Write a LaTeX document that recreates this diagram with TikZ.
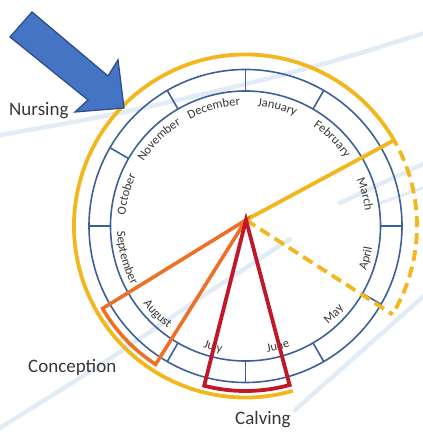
\documentclass[tikz,border=0pt]{standalone}
\usepackage{fontspec}
\setmainfont{Carlito}
\usetikzlibrary{decorations.text}

\definecolor{ringblue}{RGB}{62,96,150}
\definecolor{nurseyellow}{RGB}{242,183,28}
\definecolor{conceporange}{RGB}{237,112,40}
\definecolor{calvred}{RGB}{192,24,42}
\definecolor{arrowfill}{RGB}{70,116,196}
\definecolor{arrowedge}{RGB}{45,80,140}
\definecolor{streak}{RGB}{226,236,247}
\definecolor{labelgray}{RGB}{55,55,55}

\newcommand\monthfont{\fontsize{12.5}{14}\selectfont\color{labelgray}}

% month name curved along the upper half (letters pointing outward)
\newcommand\monthup[2]{%
  \path[decorate,decoration={text along path,text={|\monthfont|#2},text align=center}]
    (#1+28:120.5) arc[start angle=#1+28, end angle=#1-28, radius=120.5];}
% month name curved along the lower half (letters pointing inward)
\newcommand\monthdown[2]{%
  \path[decorate,decoration={text along path,text={|\monthfont|#2},text align=center}]
    (#1-28:128.5) arc[start angle=#1-28, end angle=#1+28, radius=128.5];}

\tikzset{
  ring/.style={draw=ringblue, line width=1.6pt},
  tick/.style={draw=ringblue, line width=1.6pt},
  nursing/.style={draw=nurseyellow, line width=3.8pt},
  nursingdash/.style={draw=nurseyellow, line width=3.8pt, dash pattern=on 11pt off 6pt},
  conception/.style={draw=conceporange, line width=3.6pt, line join=miter},
  calving/.style={draw=calvred, line width=3.8pt, line join=miter},
  bgstreak/.style={draw=streak, line width=4.5pt, line cap=round},
  caption/.style={font=\fontsize{19}{22}\selectfont, text=labelgray, inner sep=0pt},
}

\begin{document}
\begin{tikzpicture}[x=1pt,y=1pt]
\useasboundingbox (0,0) rectangle (422,435);

% faint background streaks
\draw[bgstreak] plot[smooth] coordinates {(-5,299) (120,322) (250,352) (330,373) (425,402)};
\draw[bgstreak] plot[smooth] coordinates {(-5,4) (100,70) (200,137) (290,196)};
\draw[bgstreak] (295,25) -- (425,140);
\draw[bgstreak] (340,232) -- (425,272);
\draw[bgstreak, line width=3pt] (380,232) -- (425,248);

\begin{scope}[shift={(245.5,209)}]
  \coordinate (apex) at (0.5,6);
  \coordinate (ys) at (30:171.5);
  \coordinate (yd) at (-31:171.5);
  \coordinate (oa) at (210:165);
  \coordinate (ob) at (237:165);
  \coordinate (ra) at (255.5:165);
  \coordinate (rb) at (285.5:165);

  % nursing season ring
  \draw[nursing] (28:171.5) arc[start angle=28, end angle=286, radius=171.5];
  \draw[nursingdash] (26:171.5) arc[start angle=26, end angle=-31, radius=171.5];

  % month ring
  \draw[ring] (0,0) circle[radius=156.5];
  \draw[ring] (0,0) circle[radius=135];
  \foreach \a in {0,30,...,330}
    \draw[tick] (\a:135) -- (\a:156.5);

  % month names
  \monthup{75}{January}
  \monthup{45}{February}
  \monthup{15}{March}
  \monthdown{-15}{April}
  \monthdown{-45}{May}
  \monthdown{-75}{June}
  \monthdown{-105}{July}
  \monthdown{-135}{August}
  \monthdown{-165}{September}
  \monthup{165}{October}
  \monthup{135}{November}
  \monthup{105}{December}

  % nursing bounds
  \draw[nursing] (apex) -- (ys);
  \draw[nursingdash] (apex) -- (yd);

  % conception window
  \draw[conception] (apex) -- (oa) arc[start angle=210, end angle=237, radius=165] -- cycle;

  % calving window
  \draw[calving] (apex) -- (ra) arc[start angle=255.5, end angle=285.5, radius=165] -- cycle;
\end{scope}

% pointer arrow
\draw[fill=arrowfill, draw=arrowedge, line width=1.3pt, line join=miter]
  (32,423) -- (108,359) -- (118,375) -- (124,327) -- (75,323) -- (88,335) -- (10,398) -- cycle;

% captions
\node[caption, anchor=west] (nursinglbl) at (9,324) {Nursing};
\node[caption, anchor=west] (conceptionlbl) at (28,68) {Conception};
\node[caption, anchor=west] (calvinglbl) at (235,15) {Calving};
\end{tikzpicture}
\end{document}
